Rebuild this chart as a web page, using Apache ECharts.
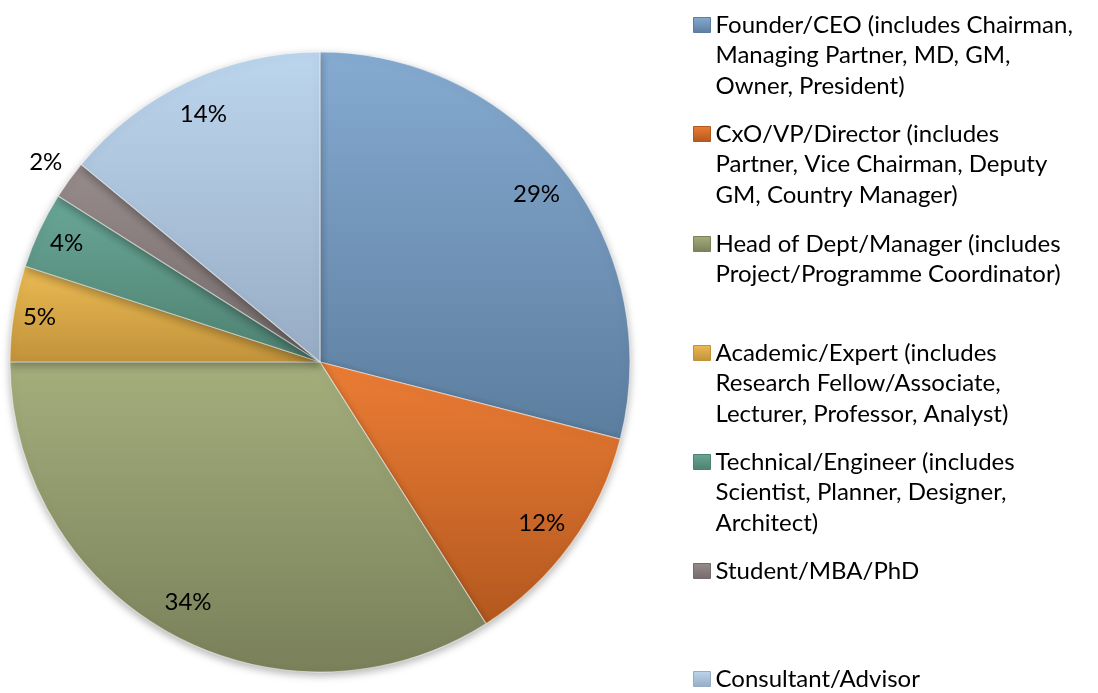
<!DOCTYPE html>
<html>
<head>
<meta charset="utf-8">
<script src="https://cdn.jsdelivr.net/npm/echarts@6/dist/echarts.min.js"></script>
<style>
html, body { margin: 0; padding: 0; background: #fff; }
#chart { width: 1098px; height: 693px; }
</style>
</head>
<body>
<div id="chart"></div>
<script>
// roles of respondents, share in %
var categories = [
	'Founder/CEO (includes Chairman, Managing Partner, MD, GM, Owner, President)',
	'CxO/VP/Director (includes Partner, Vice Chairman, Deputy GM, Country Manager)',
	'Head of Dept/Manager (includes Project/Programme Coordinator)',
	'Academic/Expert (includes Research Fellow/Associate, Lecturer, Professor, Analyst)',
	'Technical/Engineer (includes Scientist, Planner, Designer, Architect)',
	'Student/MBA/PhD',
	'Consultant/Advisor'
];
var shares = [29, 12, 34, 5, 4, 2, 14];
var legendText = [
	'Founder/CEO (includes Chairman,\nManaging Partner, MD, GM,\nOwner, President)',
	'CxO/VP/Director (includes\nPartner, Vice Chairman, Deputy\nGM, Country Manager)',
	'Head of Dept/Manager (includes\nProject/Programme Coordinator)',
	'Academic/Expert (includes\nResearch Fellow/Associate,\nLecturer, Professor, Analyst)',
	'Technical/Engineer (includes\nScientist, Planner, Designer,\nArchitect)',
	'Student/MBA/PhD',
	'Consultant/Advisor'
];

// styling
var topColors = ['#86abd1', '#ec7d35', '#a4ae7c', '#ebbb54', '#69a696', '#978b8b', '#bcd6ee'];
var bottomColors = ['#5b7d9e', '#b3581f', '#79805a', '#c1923a', '#4e8171', '#766b6b', '#97acc4'];
var legendY = [25, 134, 244, 353, 462, 571, 679];
var labelRadius = [271, 271, 271, 281, 277, 336, 271];
var lineH = 30.5;
var font = 'Lato, "DejaVu Sans", sans-serif';
var pieCenter = [320, 362];

var myChart = echarts.init(document.getElementById('chart'));

function grad(i){
	return new echarts.graphic.LinearGradient(0, 0, 0, 1, [
		{offset: 0, color: topColors[i]},
		{offset: 1, color: bottomColors[i]}
	]);
}

function draw(){
	var sliceData = [], legends = [], series = [];
	for (var i = 0; i < categories.length; i++) {
		sliceData.push({name: categories[i], value: shares[i], itemStyle: {color: grad(i)}});
		var n = legendText[i].split('\n').length;
		// blank lines in front keep the icon level with the first text line
		var txt = new Array(n).join('\n') + legendText[i];
		legends.push({
			orient: 'vertical',
			left: 693,
			top: legendY[i] - (2 * n - 1) * lineH / 2,
			padding: 0,
			itemWidth: 17,
			itemHeight: 15,
			icon: 'rect',
			selectedMode: false,
			data: [{name: categories[i], itemStyle: {color: grad(i), borderColor: bottomColors[i], borderWidth: 1}}],
			formatter: (function(t){ return function(){ return t; }; })(txt),
			textStyle: {fontFamily: font, fontSize: 24, color: '#000', lineHeight: lineH}
		});
	}
	series.push({
		name: 'slices',
		type: 'pie',
		center: pieCenter,
		radius: [0, 310],
		startAngle: 90,
		clockwise: true,
		label: {show: false},
		labelLine: {show: false},
		itemStyle: {
			borderColor: 'rgba(255,255,255,0.5)',
			borderWidth: 1.2,
			shadowBlur: 8,
			shadowOffsetY: 3,
			shadowColor: 'rgba(0,0,0,0.3)'
		},
		data: sliceData
	});
	// transparent pies that only carry the percentage labels
	for (var k = 0; k < categories.length; k++) {
		var d = [];
		for (var j = 0; j < categories.length; j++) {
			d.push({name: categories[j], value: shares[j], label: {show: j === k}});
		}
		series.push({
			name: 'label' + k,
			type: 'pie',
			silent: true,
			center: pieCenter,
			radius: [0, labelRadius[k] * 2],
			startAngle: 90,
			clockwise: true,
			itemStyle: {color: 'rgba(0,0,0,0)'},
			label: {position: 'inside', formatter: '{c}%', fontFamily: font, fontSize: 24, color: '#000'},
			labelLine: {show: false},
			data: d
		});
	}
	myChart.setOption({animation: false, legend: legends, series: series}, true);
}
draw();
</script>
</body>
</html>
